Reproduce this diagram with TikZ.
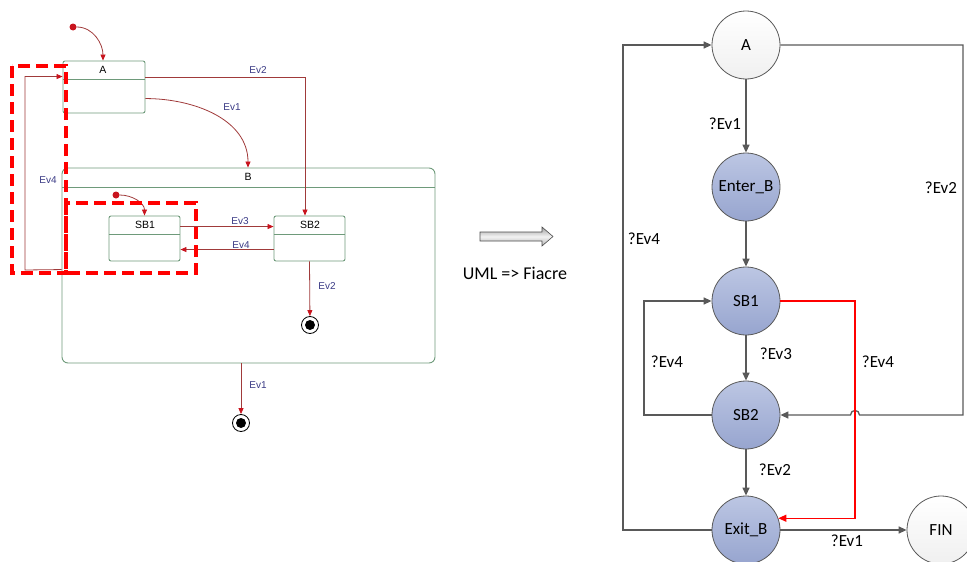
\documentclass[tikz,border=0pt]{standalone}
\usepackage{fontspec}
\setmainfont{Carlito}
\newfontfamily\umlfont{Liberation Sans}
\usepackage{tikz}
\usepackage{xcolor}
\usetikzlibrary{arrows.meta}
\usetikzlibrary{shapes}
\definecolor{umlgreen}{HTML}{6E9A7A}
\definecolor{umlred}{HTML}{A03A3A}
\definecolor{umltip}{HTML}{C8141E}
\definecolor{umlblue}{HTML}{3A3A85}
\definecolor{fgray}{HTML}{595959}
\definecolor{ftop}{HTML}{BCC6E3}
\definecolor{fbot}{HTML}{97A5CF}
\definecolor{fred}{HTML}{FF0000}
\tikzset{ustate/.style={draw=umlgreen, line width=0.9pt, rounded corners=2pt, inner sep=0pt},
 utrans/.style={draw=umlred, line width=0.8pt, -{Triangle[length=6pt,width=5pt,color=umltip]}},
 ulbl/.style={font=\umlfont\fontsize{10}{12}\selectfont, text=umlblue, inner sep=0pt},
 uname/.style={font=\umlfont\fontsize{10.5}{12}\selectfont, inner sep=0pt},
 udot/.style={circle, fill=umltip, minimum size=7pt, inner sep=0pt},
 ufinal/.style={circle, draw=black, line width=0.8pt, minimum size=17pt, inner sep=0pt,
   path picture={\fill[black] (path picture bounding box.center) circle (5pt);}},
 reddash/.style={draw=red, line width=4pt, dash pattern=on 12pt off 6pt},
 fstate/.style={circle, draw=fgray, line width=0.8pt, minimum size=68pt, inner sep=0pt,
   top color=ftop, bottom color=fbot, font=\fontsize{17}{20}\selectfont},
 fend/.style={fstate, top color=white, bottom color=gray!12},
 ftrans/.style={draw=fgray, line width=1.3pt, -{Triangle[length=8pt,width=7pt]}},
 fredtrans/.style={color=fred, line width=1.1pt, -{Triangle[length=8pt,width=7pt]}},
 flbl/.style={font=\fontsize{17}{20}\selectfont, inner sep=0pt},
 }

\begin{document}
\begin{tikzpicture}[x=1pt, y=-1pt]
        \useasboundingbox (0,0) rectangle (967,562);
        \node[ustate, minimum width=82pt, minimum height=52pt] (uA) at (104,87) {};
        \node[ustate, rounded corners=6pt, minimum width=373pt, minimum height=195pt] (uB) at (248.5,265.5) {};
        \node[ustate, minimum width=71pt, minimum height=45pt] (uSB1) at (144.5,238.5) {};
        \node[ustate, minimum width=71pt, minimum height=45pt] (uSB2) at (309.5,238.5) {};
        \foreach \s/\h in {uA/19, uB/20, uSB1/19, uSB2/19} {
            \draw[umlgreen, line width=0.9pt] ([yshift=-\h pt]\s.north west) -- ([yshift=-\h pt]\s.north east);
        }
        \node[uname] (tA) at (103,70) {A};
        \node[uname] (tB) at (248,177) {B};
        \node[uname] (tSB1) at (145,225) {SB1};
        \node[uname] (tSB2) at (310,225) {SB2};
        \node[udot] (ini) at (73,27) {};
        \node[udot] (iniB) at (116,195) {};
        \node[ufinal] (finB) at (310,325) {};
        \node[ufinal] (fin) at (241,423) {};
        \coordinate (lb) at (25,270);
        \draw[utrans] (ini) to[out=0, in=90] ([xshift=-1pt]uA.north);
        \draw[utrans] (iniB) to[out=0, in=90] (uSB1.north);
        \draw[utrans] ([yshift=-17pt]uA.north east) -| ([xshift=-4.5pt]uSB2.north);
        \draw[utrans] ([yshift=-38pt]uA.north east) to[out=0, in=90] ([xshift=-0.5pt]uB.north);
        \draw[utrans] ([yshift=-11pt]uSB1.north east) -- ([yshift=-11pt]uSB2.north west);
        \draw[utrans] ([yshift=-34pt]uSB2.north west) -- ([yshift=-34pt]uSB1.north east);
        \draw[utrans] (uSB2.south) -- (finB);
        \draw[utrans] ([xshift=-7.5pt]uB.south) -- (fin);
        \draw[utrans] ([yshift=-102pt]uB.north west) -- (lb) |- ([yshift=-16pt]uA.north west);
        \node[ulbl] (uEv2) at (258,70) {Ev2};
        \node[ulbl] (uEv1) at (232,107) {Ev1};
        \node[ulbl] (uEv4) at (48,180) {Ev4};
        \node[ulbl] (uEv3) at (240,221) {Ev3};
        \node[ulbl] (uEv4b) at (241,245) {Ev4};
        \node[ulbl] (uEv2b) at (327,286) {Ev2};
        \node[ulbl] (uEv1b) at (258,385) {Ev1};
        \draw[reddash] (12,66) rectangle (66,273);
        \draw[reddash] (66,203) rectangle (196,273);
        \shadedraw[top color=gray!75, bottom color=gray!60, middle color=gray!10, draw=gray!60!black, line width=0.6pt]
            (480,232) -- (542,232) -- (542,227) -- (553,236.5) -- (542,246) -- (542,241) -- (480,241) -- cycle;
        \node[font=\fontsize{18}{21}\selectfont] (conv) at (515,273) {UML => Fiacre};
        \node[fend] (A) at (746,45) {A};
        \node[fstate] (EnterB) at (746,187) {Enter\_B};
        \node[fstate] (SB1) at (746,301) {SB1};
        \node[fstate] (SB2) at (746,415) {SB2};
        \node[fstate] (ExitB) at (746,530) {Exit\_B};
        \node[fend] (FIN) at (941,530) {FIN};
        \coordinate (ne) at (963,45);
        \coordinate (se) at (963,415);
        \coordinate (nw) at (623,45);
        \coordinate (sw) at (623,530);
        \coordinate (lp) at (644,358);
        \coordinate (rc) at (855,415);
        \draw[ftrans] (A) -- (EnterB);
        \draw[ftrans] (EnterB) -- (SB1);
        \draw[ftrans] (SB1) -- (SB2);
        \draw[ftrans] (SB2) -- (ExitB);
        \draw[ftrans] (ExitB) -- (FIN);
        \draw[ftrans] (ExitB.west) -- (sw) -- (nw) -- (A.west);
        \draw[ftrans] (A.east) -- (ne) -- (se) -- (859.5,415) .. controls (859.5,409) and (850.5,409) .. (850.5,415) -- (SB2.east);
        \draw[ftrans] (SB2.west) -| (lp) |- (SB1.west);
        \draw[fredtrans] (SB1.east) -| (rc) |- (ExitB.20);
        \node[flbl] (fEv1) at (725,124) {?Ev1};
        \node[flbl] (fEv2) at (941,188) {?Ev2};
        \node[flbl] (fEv4) at (644,239) {?Ev4};
        \node[flbl] (fEv3) at (776,354) {?Ev3};
        \node[flbl] (fEv4b) at (667,362) {?Ev4};
        \node[flbl] (fEv4c) at (878,362) {?Ev4};
        \node[flbl] (fEv2b) at (775,470) {?Ev2};
        \node[flbl] (fEv1b) at (847,541) {?Ev1};
    \end{tikzpicture}
\end{document}
